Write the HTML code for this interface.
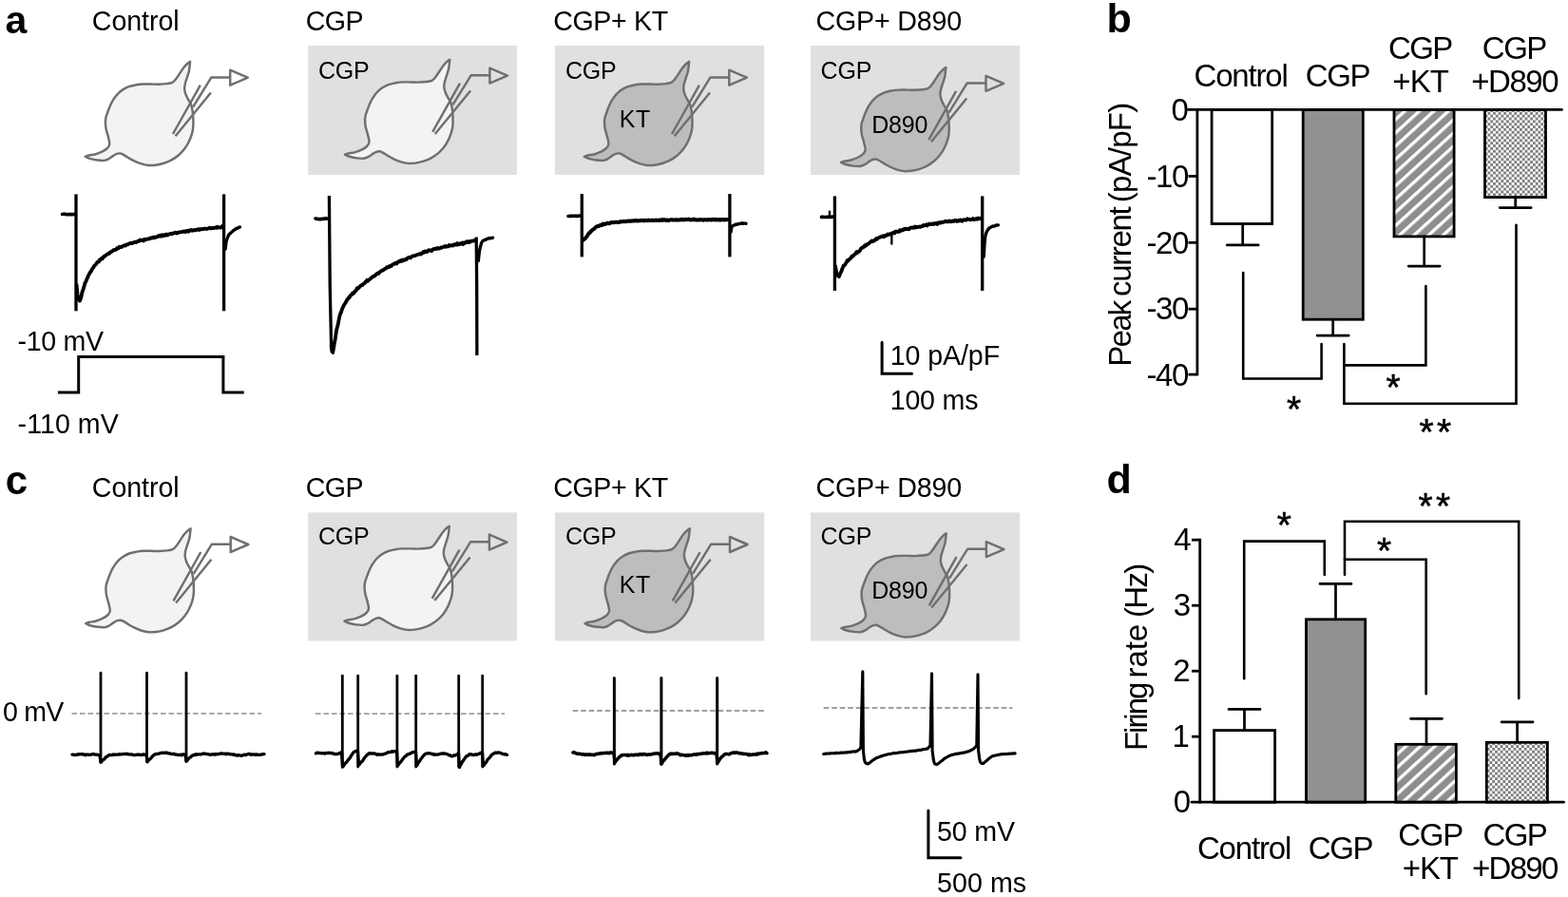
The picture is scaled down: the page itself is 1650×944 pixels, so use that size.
<!DOCTYPE html>
<html lang="en"><head><meta charset="utf-8"><title>Figure</title>
<style>html,body{margin:0;padding:0;background:#fff}svg{display:block}text{font-family:'Liberation Sans', sans-serif;fill:#000}</style></head><body>
<svg width="1650" height="944" viewBox="0 0 1650 944" role="img" aria-label="Figure panels a-d">
<defs>
<pattern id="hatch" width="10.3" height="10.3" patternUnits="userSpaceOnUse" patternTransform="rotate(-42.4)"><rect width="10.3" height="10.3" fill="#8e8e8e"/><rect y="0" width="10.3" height="3.3" fill="#fff"/></pattern>
<pattern id="check" x="1565.5" y="117.9" width="5.58" height="5.7" patternUnits="userSpaceOnUse"><rect width="5.58" height="5.7" fill="#fff"/><rect width="2.79" height="2.85" fill="#7d7d7d"/><rect x="2.79" y="2.85" width="2.79" height="2.85" fill="#7d7d7d"/></pattern>
<pattern id="check2" x="1567.5" y="784.1" width="5.58" height="5.7" patternUnits="userSpaceOnUse"><rect width="5.58" height="5.7" fill="#fff"/><rect width="2.79" height="2.85" fill="#7d7d7d"/><rect x="2.79" y="2.85" width="2.79" height="2.85" fill="#7d7d7d"/></pattern>
</defs>
<rect width="1650" height="944" fill="#fff"/>
<text x="5.6" y="34.7" font-size="41" font-weight="bold">a</text>
<text x="1164.4" y="33.9" font-size="43" font-weight="bold">b</text>
<text x="5.8" y="520.4" font-size="42" font-weight="bold">c</text>
<text x="1164.5" y="519.4" font-size="43" font-weight="bold">d</text>
<text x="96.8" y="32.2" font-size="28.6" letter-spacing="-0.06">Control</text>
<text x="321.8" y="32.2" font-size="28.6" letter-spacing="-0.58">CGP</text>
<text x="582.2" y="32.2" font-size="28.6" letter-spacing="-0.37">CGP+ KT</text>
<text x="858.6" y="32.2" font-size="28.6" letter-spacing="-0.19">CGP+ D890</text>
<text x="96.8" y="523.4" font-size="28.6" letter-spacing="-0.06">Control</text>
<text x="321.8" y="523.4" font-size="28.6" letter-spacing="-0.58">CGP</text>
<text x="582.2" y="523.4" font-size="28.6" letter-spacing="-0.37">CGP+ KT</text>
<text x="858.6" y="523.4" font-size="28.6" letter-spacing="-0.19">CGP+ D890</text>
<rect x="324.2" y="48" width="219.9" height="136" fill="#e0e0e0"/>
<rect x="583.9" y="48" width="220.3" height="136" fill="#e0e0e0"/>
<rect x="853" y="48" width="220.1" height="136" fill="#e0e0e0"/>
<rect x="324.2" y="539.4" width="219.9" height="135.1" fill="#e0e0e0"/>
<rect x="583.9" y="539.4" width="220.3" height="135.1" fill="#e0e0e0"/>
<rect x="853" y="539.4" width="220.1" height="135.1" fill="#e0e0e0"/>
<g transform="translate(0,0)" stroke="#6f6f6f" stroke-width="2.45" fill="none" stroke-linejoin="round">
<path d="M200.1,64.9C199.7,68.2 199.5,71.8 198.9,74.7C198.3,77.7 197.2,80.2 196.5,82.6C195.8,85 195,86.9 194.6,88.9C194.2,90.9 194,92.6 194.2,94.4C194.4,96.2 195,98.1 195.7,99.9C196.4,101.7 197.6,103.8 198.5,105.4C199.4,107 200.2,107.6 200.9,109.4C201.6,111.2 202.1,113.5 202.5,116C202.9,118.5 203.2,121.6 203.3,124.5C203.4,127.4 203.6,130.6 203.3,133.4C203.1,136.2 202.6,138.7 201.8,141.3C201,143.9 200,146.6 198.7,149.2C197.4,151.8 195.8,154.6 193.9,157C192,159.4 189.8,161.7 187.4,163.7C185,165.7 182.2,167.5 179.6,168.9C177,170.3 174.3,171.2 171.7,172C169.1,172.8 166.4,173.4 163.8,173.7C161.2,174 158.5,174.2 155.9,174C153.3,173.8 150.6,173 148,172.2C145.4,171.3 142.5,170.1 140.2,168.9C137.8,167.8 135.8,166.4 133.9,165.3C132.1,164.2 130.4,163.1 129.1,162.4C127.8,161.8 127,161.5 126,161.4C125,161.3 124,161.5 122.8,161.9C121.6,162.3 120.3,163.2 118.9,164.1C117.5,165 115.8,166.5 114.2,167.3C112.6,168.1 111.4,168.7 109.4,168.9C107.4,169.1 104.8,168.8 102.3,168.5C99.8,168.2 96.6,167.5 94.5,166.9C92.4,166.3 91.3,165.5 89.7,164.8C91,164.4 91.9,163.9 93.7,163.5C95.5,163.1 98.4,162.9 100.8,162.2C103.2,161.5 105.9,160.4 107.9,159.4C109.9,158.4 111.8,157.2 113,155.9C114.2,154.6 115.2,153.6 115.3,151.5C115.4,149.4 114.4,146.2 113.8,143.6C113.2,141 112.1,138.4 111.6,135.8C111.1,133.2 110.9,130.1 110.9,128C110.9,125.9 111.3,124.4 111.6,123C111.9,121.6 112.2,121.2 112.8,119.5C113.4,117.8 114.4,114.8 115.4,112.5C116.4,110.2 117.5,107.6 118.9,105.4C120.3,103.2 121.9,100.9 123.6,99.1C125.3,97.3 127.2,95.7 129.2,94.4C131.2,93.1 133.2,92.1 135.5,91.2C137.8,90.3 140.7,89.8 143.3,89.3C145.9,88.8 148.6,88.6 151.2,88.5C153.8,88.4 156.5,88.5 159.1,88.5C161.7,88.5 164.2,88.8 167,88.7C169.8,88.6 173.3,88.4 175.7,88.1C178.1,87.8 179.8,87.6 181.2,86.9C182.6,86.2 183.1,85.6 184.3,84.2C185.5,82.8 186.9,80.7 188.3,78.6C189.8,76.5 191.4,73.5 193,71.5C194.6,69.5 196.5,67.6 197.7,66.5C198.9,65.4 199.3,65.4 200.1,64.9Z" fill="#f3f3f3"/>
<path d="M182,141L210.8,89.7M184.6,143.2L221.9,97.5M203.2,112.5L222.4,81.4H242.2"/>
<path d="M242.2,73.7V89.7L260.8,81.7Z"/>
</g>
<g transform="translate(273.2,-2.1)" stroke="#6f6f6f" stroke-width="2.45" fill="none" stroke-linejoin="round">
<path d="M200.1,64.9C199.7,68.2 199.5,71.8 198.9,74.7C198.3,77.7 197.2,80.2 196.5,82.6C195.8,85 195,86.9 194.6,88.9C194.2,90.9 194,92.6 194.2,94.4C194.4,96.2 195,98.1 195.7,99.9C196.4,101.7 197.6,103.8 198.5,105.4C199.4,107 200.2,107.6 200.9,109.4C201.6,111.2 202.1,113.5 202.5,116C202.9,118.5 203.2,121.6 203.3,124.5C203.4,127.4 203.6,130.6 203.3,133.4C203.1,136.2 202.6,138.7 201.8,141.3C201,143.9 200,146.6 198.7,149.2C197.4,151.8 195.8,154.6 193.9,157C192,159.4 189.8,161.7 187.4,163.7C185,165.7 182.2,167.5 179.6,168.9C177,170.3 174.3,171.2 171.7,172C169.1,172.8 166.4,173.4 163.8,173.7C161.2,174 158.5,174.2 155.9,174C153.3,173.8 150.6,173 148,172.2C145.4,171.3 142.5,170.1 140.2,168.9C137.8,167.8 135.8,166.4 133.9,165.3C132.1,164.2 130.4,163.1 129.1,162.4C127.8,161.8 127,161.5 126,161.4C125,161.3 124,161.5 122.8,161.9C121.6,162.3 120.3,163.2 118.9,164.1C117.5,165 115.8,166.5 114.2,167.3C112.6,168.1 111.4,168.7 109.4,168.9C107.4,169.1 104.8,168.8 102.3,168.5C99.8,168.2 96.6,167.5 94.5,166.9C92.4,166.3 91.3,165.5 89.7,164.8C91,164.4 91.9,163.9 93.7,163.5C95.5,163.1 98.4,162.9 100.8,162.2C103.2,161.5 105.9,160.4 107.9,159.4C109.9,158.4 111.8,157.2 113,155.9C114.2,154.6 115.2,153.6 115.3,151.5C115.4,149.4 114.4,146.2 113.8,143.6C113.2,141 112.1,138.4 111.6,135.8C111.1,133.2 110.9,130.1 110.9,128C110.9,125.9 111.3,124.4 111.6,123C111.9,121.6 112.2,121.2 112.8,119.5C113.4,117.8 114.4,114.8 115.4,112.5C116.4,110.2 117.5,107.6 118.9,105.4C120.3,103.2 121.9,100.9 123.6,99.1C125.3,97.3 127.2,95.7 129.2,94.4C131.2,93.1 133.2,92.1 135.5,91.2C137.8,90.3 140.7,89.8 143.3,89.3C145.9,88.8 148.6,88.6 151.2,88.5C153.8,88.4 156.5,88.5 159.1,88.5C161.7,88.5 164.2,88.8 167,88.7C169.8,88.6 173.3,88.4 175.7,88.1C178.1,87.8 179.8,87.6 181.2,86.9C182.6,86.2 183.1,85.6 184.3,84.2C185.5,82.8 186.9,80.7 188.3,78.6C189.8,76.5 191.4,73.5 193,71.5C194.6,69.5 196.5,67.6 197.7,66.5C198.9,65.4 199.3,65.4 200.1,64.9Z" fill="#f3f3f3"/>
<path d="M182,141L210.8,89.7M184.6,143.2L221.9,97.5M203.2,112.5L222.4,81.4H242.2"/>
<path d="M242.2,73.7V89.7L260.8,81.7Z"/>
</g>
<g transform="translate(525.1,0)" stroke="#6f6f6f" stroke-width="2.45" fill="none" stroke-linejoin="round">
<path d="M200.1,64.9C199.7,68.2 199.5,71.8 198.9,74.7C198.3,77.7 197.2,80.2 196.5,82.6C195.8,85 195,86.9 194.6,88.9C194.2,90.9 194,92.6 194.2,94.4C194.4,96.2 195,98.1 195.7,99.9C196.4,101.7 197.6,103.8 198.5,105.4C199.4,107 200.2,107.6 200.9,109.4C201.6,111.2 202.1,113.5 202.5,116C202.9,118.5 203.2,121.6 203.3,124.5C203.4,127.4 203.6,130.6 203.3,133.4C203.1,136.2 202.6,138.7 201.8,141.3C201,143.9 200,146.6 198.7,149.2C197.4,151.8 195.8,154.6 193.9,157C192,159.4 189.8,161.7 187.4,163.7C185,165.7 182.2,167.5 179.6,168.9C177,170.3 174.3,171.2 171.7,172C169.1,172.8 166.4,173.4 163.8,173.7C161.2,174 158.5,174.2 155.9,174C153.3,173.8 150.6,173 148,172.2C145.4,171.3 142.5,170.1 140.2,168.9C137.8,167.8 135.8,166.4 133.9,165.3C132.1,164.2 130.4,163.1 129.1,162.4C127.8,161.8 127,161.5 126,161.4C125,161.3 124,161.5 122.8,161.9C121.6,162.3 120.3,163.2 118.9,164.1C117.5,165 115.8,166.5 114.2,167.3C112.6,168.1 111.4,168.7 109.4,168.9C107.4,169.1 104.8,168.8 102.3,168.5C99.8,168.2 96.6,167.5 94.5,166.9C92.4,166.3 91.3,165.5 89.7,164.8C91,164.4 91.9,163.9 93.7,163.5C95.5,163.1 98.4,162.9 100.8,162.2C103.2,161.5 105.9,160.4 107.9,159.4C109.9,158.4 111.8,157.2 113,155.9C114.2,154.6 115.2,153.6 115.3,151.5C115.4,149.4 114.4,146.2 113.8,143.6C113.2,141 112.1,138.4 111.6,135.8C111.1,133.2 110.9,130.1 110.9,128C110.9,125.9 111.3,124.4 111.6,123C111.9,121.6 112.2,121.2 112.8,119.5C113.4,117.8 114.4,114.8 115.4,112.5C116.4,110.2 117.5,107.6 118.9,105.4C120.3,103.2 121.9,100.9 123.6,99.1C125.3,97.3 127.2,95.7 129.2,94.4C131.2,93.1 133.2,92.1 135.5,91.2C137.8,90.3 140.7,89.8 143.3,89.3C145.9,88.8 148.6,88.6 151.2,88.5C153.8,88.4 156.5,88.5 159.1,88.5C161.7,88.5 164.2,88.8 167,88.7C169.8,88.6 173.3,88.4 175.7,88.1C178.1,87.8 179.8,87.6 181.2,86.9C182.6,86.2 183.1,85.6 184.3,84.2C185.5,82.8 186.9,80.7 188.3,78.6C189.8,76.5 191.4,73.5 193,71.5C194.6,69.5 196.5,67.6 197.7,66.5C198.9,65.4 199.3,65.4 200.1,64.9Z" fill="#bdbdbd"/>
<path d="M182,141L210.8,89.7M184.6,143.2L221.9,97.5M203.2,112.5L222.4,81.4H242.2"/>
<path d="M242.2,73.7V89.7L260.8,81.7Z"/>
</g>
<g transform="translate(795.3,6.1)" stroke="#6f6f6f" stroke-width="2.45" fill="none" stroke-linejoin="round">
<path d="M200.1,64.9C199.7,68.2 199.5,71.8 198.9,74.7C198.3,77.7 197.2,80.2 196.5,82.6C195.8,85 195,86.9 194.6,88.9C194.2,90.9 194,92.6 194.2,94.4C194.4,96.2 195,98.1 195.7,99.9C196.4,101.7 197.6,103.8 198.5,105.4C199.4,107 200.2,107.6 200.9,109.4C201.6,111.2 202.1,113.5 202.5,116C202.9,118.5 203.2,121.6 203.3,124.5C203.4,127.4 203.6,130.6 203.3,133.4C203.1,136.2 202.6,138.7 201.8,141.3C201,143.9 200,146.6 198.7,149.2C197.4,151.8 195.8,154.6 193.9,157C192,159.4 189.8,161.7 187.4,163.7C185,165.7 182.2,167.5 179.6,168.9C177,170.3 174.3,171.2 171.7,172C169.1,172.8 166.4,173.4 163.8,173.7C161.2,174 158.5,174.2 155.9,174C153.3,173.8 150.6,173 148,172.2C145.4,171.3 142.5,170.1 140.2,168.9C137.8,167.8 135.8,166.4 133.9,165.3C132.1,164.2 130.4,163.1 129.1,162.4C127.8,161.8 127,161.5 126,161.4C125,161.3 124,161.5 122.8,161.9C121.6,162.3 120.3,163.2 118.9,164.1C117.5,165 115.8,166.5 114.2,167.3C112.6,168.1 111.4,168.7 109.4,168.9C107.4,169.1 104.8,168.8 102.3,168.5C99.8,168.2 96.6,167.5 94.5,166.9C92.4,166.3 91.3,165.5 89.7,164.8C91,164.4 91.9,163.9 93.7,163.5C95.5,163.1 98.4,162.9 100.8,162.2C103.2,161.5 105.9,160.4 107.9,159.4C109.9,158.4 111.8,157.2 113,155.9C114.2,154.6 115.2,153.6 115.3,151.5C115.4,149.4 114.4,146.2 113.8,143.6C113.2,141 112.1,138.4 111.6,135.8C111.1,133.2 110.9,130.1 110.9,128C110.9,125.9 111.3,124.4 111.6,123C111.9,121.6 112.2,121.2 112.8,119.5C113.4,117.8 114.4,114.8 115.4,112.5C116.4,110.2 117.5,107.6 118.9,105.4C120.3,103.2 121.9,100.9 123.6,99.1C125.3,97.3 127.2,95.7 129.2,94.4C131.2,93.1 133.2,92.1 135.5,91.2C137.8,90.3 140.7,89.8 143.3,89.3C145.9,88.8 148.6,88.6 151.2,88.5C153.8,88.4 156.5,88.5 159.1,88.5C161.7,88.5 164.2,88.8 167,88.7C169.8,88.6 173.3,88.4 175.7,88.1C178.1,87.8 179.8,87.6 181.2,86.9C182.6,86.2 183.1,85.6 184.3,84.2C185.5,82.8 186.9,80.7 188.3,78.6C189.8,76.5 191.4,73.5 193,71.5C194.6,69.5 196.5,67.6 197.7,66.5C198.9,65.4 199.3,65.4 200.1,64.9Z" fill="#bdbdbd"/>
<path d="M182,141L210.8,89.7M184.6,143.2L221.9,97.5M203.2,112.5L222.4,81.4H242.2"/>
<path d="M242.2,73.7V89.7L260.8,81.7Z"/>
</g>
<g transform="translate(0.5,491.3)" stroke="#6f6f6f" stroke-width="2.45" fill="none" stroke-linejoin="round">
<path d="M200.1,64.9C199.7,68.2 199.5,71.8 198.9,74.7C198.3,77.7 197.2,80.2 196.5,82.6C195.8,85 195,86.9 194.6,88.9C194.2,90.9 194,92.6 194.2,94.4C194.4,96.2 195,98.1 195.7,99.9C196.4,101.7 197.6,103.8 198.5,105.4C199.4,107 200.2,107.6 200.9,109.4C201.6,111.2 202.1,113.5 202.5,116C202.9,118.5 203.2,121.6 203.3,124.5C203.4,127.4 203.6,130.6 203.3,133.4C203.1,136.2 202.6,138.7 201.8,141.3C201,143.9 200,146.6 198.7,149.2C197.4,151.8 195.8,154.6 193.9,157C192,159.4 189.8,161.7 187.4,163.7C185,165.7 182.2,167.5 179.6,168.9C177,170.3 174.3,171.2 171.7,172C169.1,172.8 166.4,173.4 163.8,173.7C161.2,174 158.5,174.2 155.9,174C153.3,173.8 150.6,173 148,172.2C145.4,171.3 142.5,170.1 140.2,168.9C137.8,167.8 135.8,166.4 133.9,165.3C132.1,164.2 130.4,163.1 129.1,162.4C127.8,161.8 127,161.5 126,161.4C125,161.3 124,161.5 122.8,161.9C121.6,162.3 120.3,163.2 118.9,164.1C117.5,165 115.8,166.5 114.2,167.3C112.6,168.1 111.4,168.7 109.4,168.9C107.4,169.1 104.8,168.8 102.3,168.5C99.8,168.2 96.6,167.5 94.5,166.9C92.4,166.3 91.3,165.5 89.7,164.8C91,164.4 91.9,163.9 93.7,163.5C95.5,163.1 98.4,162.9 100.8,162.2C103.2,161.5 105.9,160.4 107.9,159.4C109.9,158.4 111.8,157.2 113,155.9C114.2,154.6 115.2,153.6 115.3,151.5C115.4,149.4 114.4,146.2 113.8,143.6C113.2,141 112.1,138.4 111.6,135.8C111.1,133.2 110.9,130.1 110.9,128C110.9,125.9 111.3,124.4 111.6,123C111.9,121.6 112.2,121.2 112.8,119.5C113.4,117.8 114.4,114.8 115.4,112.5C116.4,110.2 117.5,107.6 118.9,105.4C120.3,103.2 121.9,100.9 123.6,99.1C125.3,97.3 127.2,95.7 129.2,94.4C131.2,93.1 133.2,92.1 135.5,91.2C137.8,90.3 140.7,89.8 143.3,89.3C145.9,88.8 148.6,88.6 151.2,88.5C153.8,88.4 156.5,88.5 159.1,88.5C161.7,88.5 164.2,88.8 167,88.7C169.8,88.6 173.3,88.4 175.7,88.1C178.1,87.8 179.8,87.6 181.2,86.9C182.6,86.2 183.1,85.6 184.3,84.2C185.5,82.8 186.9,80.7 188.3,78.6C189.8,76.5 191.4,73.5 193,71.5C194.6,69.5 196.5,67.6 197.7,66.5C198.9,65.4 199.3,65.4 200.1,64.9Z" fill="#f3f3f3"/>
<path d="M182,141L210.8,89.7M184.6,143.2L221.9,97.5M203.2,112.5L222.4,81.4H242.2"/>
<path d="M242.2,73.7V89.7L260.8,81.7Z"/>
</g>
<g transform="translate(272.7,488.9)" stroke="#6f6f6f" stroke-width="2.45" fill="none" stroke-linejoin="round">
<path d="M200.1,64.9C199.7,68.2 199.5,71.8 198.9,74.7C198.3,77.7 197.2,80.2 196.5,82.6C195.8,85 195,86.9 194.6,88.9C194.2,90.9 194,92.6 194.2,94.4C194.4,96.2 195,98.1 195.7,99.9C196.4,101.7 197.6,103.8 198.5,105.4C199.4,107 200.2,107.6 200.9,109.4C201.6,111.2 202.1,113.5 202.5,116C202.9,118.5 203.2,121.6 203.3,124.5C203.4,127.4 203.6,130.6 203.3,133.4C203.1,136.2 202.6,138.7 201.8,141.3C201,143.9 200,146.6 198.7,149.2C197.4,151.8 195.8,154.6 193.9,157C192,159.4 189.8,161.7 187.4,163.7C185,165.7 182.2,167.5 179.6,168.9C177,170.3 174.3,171.2 171.7,172C169.1,172.8 166.4,173.4 163.8,173.7C161.2,174 158.5,174.2 155.9,174C153.3,173.8 150.6,173 148,172.2C145.4,171.3 142.5,170.1 140.2,168.9C137.8,167.8 135.8,166.4 133.9,165.3C132.1,164.2 130.4,163.1 129.1,162.4C127.8,161.8 127,161.5 126,161.4C125,161.3 124,161.5 122.8,161.9C121.6,162.3 120.3,163.2 118.9,164.1C117.5,165 115.8,166.5 114.2,167.3C112.6,168.1 111.4,168.7 109.4,168.9C107.4,169.1 104.8,168.8 102.3,168.5C99.8,168.2 96.6,167.5 94.5,166.9C92.4,166.3 91.3,165.5 89.7,164.8C91,164.4 91.9,163.9 93.7,163.5C95.5,163.1 98.4,162.9 100.8,162.2C103.2,161.5 105.9,160.4 107.9,159.4C109.9,158.4 111.8,157.2 113,155.9C114.2,154.6 115.2,153.6 115.3,151.5C115.4,149.4 114.4,146.2 113.8,143.6C113.2,141 112.1,138.4 111.6,135.8C111.1,133.2 110.9,130.1 110.9,128C110.9,125.9 111.3,124.4 111.6,123C111.9,121.6 112.2,121.2 112.8,119.5C113.4,117.8 114.4,114.8 115.4,112.5C116.4,110.2 117.5,107.6 118.9,105.4C120.3,103.2 121.9,100.9 123.6,99.1C125.3,97.3 127.2,95.7 129.2,94.4C131.2,93.1 133.2,92.1 135.5,91.2C137.8,90.3 140.7,89.8 143.3,89.3C145.9,88.8 148.6,88.6 151.2,88.5C153.8,88.4 156.5,88.5 159.1,88.5C161.7,88.5 164.2,88.8 167,88.7C169.8,88.6 173.3,88.4 175.7,88.1C178.1,87.8 179.8,87.6 181.2,86.9C182.6,86.2 183.1,85.6 184.3,84.2C185.5,82.8 186.9,80.7 188.3,78.6C189.8,76.5 191.4,73.5 193,71.5C194.6,69.5 196.5,67.6 197.7,66.5C198.9,65.4 199.3,65.4 200.1,64.9Z" fill="#f3f3f3"/>
<path d="M182,141L210.8,89.7M184.6,143.2L221.9,97.5M203.2,112.5L222.4,81.4H242.2"/>
<path d="M242.2,73.7V89.7L260.8,81.7Z"/>
</g>
<g transform="translate(525.8,491.3)" stroke="#6f6f6f" stroke-width="2.45" fill="none" stroke-linejoin="round">
<path d="M200.1,64.9C199.7,68.2 199.5,71.8 198.9,74.7C198.3,77.7 197.2,80.2 196.5,82.6C195.8,85 195,86.9 194.6,88.9C194.2,90.9 194,92.6 194.2,94.4C194.4,96.2 195,98.1 195.7,99.9C196.4,101.7 197.6,103.8 198.5,105.4C199.4,107 200.2,107.6 200.9,109.4C201.6,111.2 202.1,113.5 202.5,116C202.9,118.5 203.2,121.6 203.3,124.5C203.4,127.4 203.6,130.6 203.3,133.4C203.1,136.2 202.6,138.7 201.8,141.3C201,143.9 200,146.6 198.7,149.2C197.4,151.8 195.8,154.6 193.9,157C192,159.4 189.8,161.7 187.4,163.7C185,165.7 182.2,167.5 179.6,168.9C177,170.3 174.3,171.2 171.7,172C169.1,172.8 166.4,173.4 163.8,173.7C161.2,174 158.5,174.2 155.9,174C153.3,173.8 150.6,173 148,172.2C145.4,171.3 142.5,170.1 140.2,168.9C137.8,167.8 135.8,166.4 133.9,165.3C132.1,164.2 130.4,163.1 129.1,162.4C127.8,161.8 127,161.5 126,161.4C125,161.3 124,161.5 122.8,161.9C121.6,162.3 120.3,163.2 118.9,164.1C117.5,165 115.8,166.5 114.2,167.3C112.6,168.1 111.4,168.7 109.4,168.9C107.4,169.1 104.8,168.8 102.3,168.5C99.8,168.2 96.6,167.5 94.5,166.9C92.4,166.3 91.3,165.5 89.7,164.8C91,164.4 91.9,163.9 93.7,163.5C95.5,163.1 98.4,162.9 100.8,162.2C103.2,161.5 105.9,160.4 107.9,159.4C109.9,158.4 111.8,157.2 113,155.9C114.2,154.6 115.2,153.6 115.3,151.5C115.4,149.4 114.4,146.2 113.8,143.6C113.2,141 112.1,138.4 111.6,135.8C111.1,133.2 110.9,130.1 110.9,128C110.9,125.9 111.3,124.4 111.6,123C111.9,121.6 112.2,121.2 112.8,119.5C113.4,117.8 114.4,114.8 115.4,112.5C116.4,110.2 117.5,107.6 118.9,105.4C120.3,103.2 121.9,100.9 123.6,99.1C125.3,97.3 127.2,95.7 129.2,94.4C131.2,93.1 133.2,92.1 135.5,91.2C137.8,90.3 140.7,89.8 143.3,89.3C145.9,88.8 148.6,88.6 151.2,88.5C153.8,88.4 156.5,88.5 159.1,88.5C161.7,88.5 164.2,88.8 167,88.7C169.8,88.6 173.3,88.4 175.7,88.1C178.1,87.8 179.8,87.6 181.2,86.9C182.6,86.2 183.1,85.6 184.3,84.2C185.5,82.8 186.9,80.7 188.3,78.6C189.8,76.5 191.4,73.5 193,71.5C194.6,69.5 196.5,67.6 197.7,66.5C198.9,65.4 199.3,65.4 200.1,64.9Z" fill="#bdbdbd"/>
<path d="M182,141L210.8,89.7M184.6,143.2L221.9,97.5M203.2,112.5L222.4,81.4H242.2"/>
<path d="M242.2,73.7V89.7L260.8,81.7Z"/>
</g>
<g transform="translate(795.7,496.4)" stroke="#6f6f6f" stroke-width="2.45" fill="none" stroke-linejoin="round">
<path d="M200.1,64.9C199.7,68.2 199.5,71.8 198.9,74.7C198.3,77.7 197.2,80.2 196.5,82.6C195.8,85 195,86.9 194.6,88.9C194.2,90.9 194,92.6 194.2,94.4C194.4,96.2 195,98.1 195.7,99.9C196.4,101.7 197.6,103.8 198.5,105.4C199.4,107 200.2,107.6 200.9,109.4C201.6,111.2 202.1,113.5 202.5,116C202.9,118.5 203.2,121.6 203.3,124.5C203.4,127.4 203.6,130.6 203.3,133.4C203.1,136.2 202.6,138.7 201.8,141.3C201,143.9 200,146.6 198.7,149.2C197.4,151.8 195.8,154.6 193.9,157C192,159.4 189.8,161.7 187.4,163.7C185,165.7 182.2,167.5 179.6,168.9C177,170.3 174.3,171.2 171.7,172C169.1,172.8 166.4,173.4 163.8,173.7C161.2,174 158.5,174.2 155.9,174C153.3,173.8 150.6,173 148,172.2C145.4,171.3 142.5,170.1 140.2,168.9C137.8,167.8 135.8,166.4 133.9,165.3C132.1,164.2 130.4,163.1 129.1,162.4C127.8,161.8 127,161.5 126,161.4C125,161.3 124,161.5 122.8,161.9C121.6,162.3 120.3,163.2 118.9,164.1C117.5,165 115.8,166.5 114.2,167.3C112.6,168.1 111.4,168.7 109.4,168.9C107.4,169.1 104.8,168.8 102.3,168.5C99.8,168.2 96.6,167.5 94.5,166.9C92.4,166.3 91.3,165.5 89.7,164.8C91,164.4 91.9,163.9 93.7,163.5C95.5,163.1 98.4,162.9 100.8,162.2C103.2,161.5 105.9,160.4 107.9,159.4C109.9,158.4 111.8,157.2 113,155.9C114.2,154.6 115.2,153.6 115.3,151.5C115.4,149.4 114.4,146.2 113.8,143.6C113.2,141 112.1,138.4 111.6,135.8C111.1,133.2 110.9,130.1 110.9,128C110.9,125.9 111.3,124.4 111.6,123C111.9,121.6 112.2,121.2 112.8,119.5C113.4,117.8 114.4,114.8 115.4,112.5C116.4,110.2 117.5,107.6 118.9,105.4C120.3,103.2 121.9,100.9 123.6,99.1C125.3,97.3 127.2,95.7 129.2,94.4C131.2,93.1 133.2,92.1 135.5,91.2C137.8,90.3 140.7,89.8 143.3,89.3C145.9,88.8 148.6,88.6 151.2,88.5C153.8,88.4 156.5,88.5 159.1,88.5C161.7,88.5 164.2,88.8 167,88.7C169.8,88.6 173.3,88.4 175.7,88.1C178.1,87.8 179.8,87.6 181.2,86.9C182.6,86.2 183.1,85.6 184.3,84.2C185.5,82.8 186.9,80.7 188.3,78.6C189.8,76.5 191.4,73.5 193,71.5C194.6,69.5 196.5,67.6 197.7,66.5C198.9,65.4 199.3,65.4 200.1,64.9Z" fill="#bdbdbd"/>
<path d="M182,141L210.8,89.7M184.6,143.2L221.9,97.5M203.2,112.5L222.4,81.4H242.2"/>
<path d="M242.2,73.7V89.7L260.8,81.7Z"/>
</g>
<text x="334.9" y="82.8" font-size="25" letter-spacing="-0.16">CGP</text>
<text x="594.9" y="82.8" font-size="25" letter-spacing="-0.16">CGP</text>
<text x="863.5" y="82.8" font-size="25" letter-spacing="-0.16">CGP</text>
<text x="651.7" y="134.1" font-size="25" letter-spacing="0.69">KT</text>
<text x="917.2" y="139.5" font-size="25" letter-spacing="-0.22">D890</text>
<text x="334.9" y="573.3" font-size="25" letter-spacing="-0.16">CGP</text>
<text x="594.9" y="573.3" font-size="25" letter-spacing="-0.16">CGP</text>
<text x="863.5" y="573.3" font-size="25" letter-spacing="-0.16">CGP</text>
<text x="651.7" y="624.3" font-size="25" letter-spacing="0.69">KT</text>
<text x="917.2" y="630" font-size="25" letter-spacing="-0.22">D890</text>
<g fill="none" stroke="#000" stroke-linejoin="round" stroke-linecap="round">
<polyline points="65.5,225.5 66.7,225.3 67.9,225.2 69.1,225.4 70.3,225.7 71.5,225.8 72.7,225.6 73.9,225.5 75.1,225.6 76.3,225.8 77.5,225.5 78.7,225.5" stroke-width="3.6"/>
<line x1="80" y1="204.4" x2="80" y2="327.3" stroke-width="3.3" stroke-linecap="butt"/>
<polyline points="80.6,300 81.5,309.5 82.3,313.7 83.1,315.5 83.9,316.6 84.7,315 85.5,312.4 86.3,308.2 87.1,305.8 87.9,303.3 88.7,300.9 89.5,297.7 90.3,296.4 91.1,294.6 91.9,292.8 92.7,290.5 93.5,289.3 94.3,287.6 95.1,286.2 95.9,285.5 96.7,283.4 97.5,282.5 98.3,281.6 99.1,279.9 99.9,279.1 100.7,278.3 101.5,277.4 102.3,276 103.1,275.7 103.9,275.4 104.7,273.5 105.5,273.7 106.3,272.7 107.1,271.7 107.9,272.1 108.7,271 109.5,269.6 110.3,269.5 111.1,269.1 111.9,268.2 112.7,268 113.5,267.2 114.3,267 115.1,266.8 115.9,265.4 116.7,265.3 117.5,264.6 118.3,264.4 119.1,263.4 119.9,263.2 120.7,262.9 121.5,262.9 122.3,262.6 123.1,261.2 123.9,261.1 124.7,261.3 125.5,259.8 126.3,260.1 127.1,259.9 127.9,260.1 128.7,259.5 129.5,258.8 130.3,258.5 131.1,258.2 131.9,258.6 132.7,257.5 133.5,257.3 134.3,257.3 135.1,256.8 135.9,256.5 136.7,255.9 137.5,256.1 138.3,255.7 139.1,256.1 139.9,255.7 140.7,255.2 141.5,255.2 142.3,254.6 143.1,255 143.9,254.3 144.7,254.4 145.5,253.4 146.3,253.9 147.1,252.9 147.9,252.5 148.7,253 149.5,252.6 150.3,252.8 151.1,253.4 151.9,252 152.7,251.9 153.5,252 154.3,252 155.1,251.5 155.9,251.3 156.7,251.5 157.5,251.2 158.3,250.4 159.1,250.6 159.9,250.4 160.7,249.8 161.5,250.2 162.3,249.5 163.1,250.1 163.9,249.6 164.7,249.4 165.5,248.9 166.3,249 167.1,248 167.9,248.2 168.7,248.6 169.5,247.5 170.3,248.5 171.1,247.3 171.9,248.1 172.7,247.3 173.5,247.8 174.3,247.3 175.1,246.5 175.9,247.5 176.7,247.4 177.5,246.6 178.3,246.4 179.1,246.2 179.9,245.8 180.7,246.4 181.5,245.6 182.3,245.7 183.1,245.2 183.9,245.2 184.7,244.7 185.5,245.6 186.3,244.9 187.1,245.2 187.9,244.7 188.7,244.3 189.5,244.3 190.3,244.1 191.1,244.2 191.9,243.9 192.7,243.8 193.5,243.3 194.3,243.4 195.1,244.2 195.9,243.2 196.7,242.9 197.5,243.4 198.3,243.7 199.1,242.4 199.9,242.8 200.7,242.5 201.5,241.9 202.3,242.8 203.1,242.4 203.9,242.3 204.7,241.9 205.5,242.3 206.3,241.8 207.1,241.8 207.9,241.3 208.7,241.2 209.5,242.1 210.3,241.2 211.1,241.5 211.9,241.2 212.7,241 213.5,240.8 214.3,241.2 215.1,240.7 215.9,240.7 216.7,240.6 217.5,241 218.3,240.7 219.1,240.5 219.9,240 220.7,239.6 221.5,240.4 222.3,240.4 223.1,239.8 223.9,240 224.7,240 225.5,239.9 226.3,239.9 227.1,239.2 227.9,239.9 228.7,238.7 229.5,239.5 230.3,239.3 231.1,239.3 231.9,239.6 232.7,239.4 233.5,238.2 234.3,237.9" stroke-width="3.8"/>
<line x1="235.6" y1="204.4" x2="235.6" y2="327.3" stroke-width="3.3" stroke-linecap="butt"/>
<polyline points="237.2,262.2 238,254.6 238.8,251.7 239.6,249.9 240.4,247.8 241.2,246.4 242,246.1 242.8,245.2 243.6,244.4 244.4,243.8 245.2,242.9 246,242.1 246.8,241.9 247.6,241.2 248.4,240.4 249.2,240.6 250,240 250.8,239.8 251.6,239.1 252.4,239" stroke-width="3.3"/>
<polyline points="332,230 333.2,230.3 334.4,230.3 335.6,230.8 336.8,230.5 338,230.6 339.2,230.2 340.4,230.5 341.6,230 342.8,229.9 344,230.1" stroke-width="3.6"/>
<polyline points="346.4,205.9 347.2,300 348.6,364" stroke-width="3.3" stroke-linecap="butt"/>
<polyline points="348.6,364 349.4,369.9 350.2,370.9 351,366.6 351.8,361.5 352.6,357.7 353.4,352.2 354.2,346.9 355,344 355.8,340.8 356.6,336.5 357.4,332.6 358.2,330 359,328.5 359.8,325.9 360.6,323.9 361.4,322.2 362.2,320.6 363,319.6 363.8,318.2 364.6,316.8 365.4,315.1 366.2,314.7 367,313.2 367.8,313 368.6,311 369.4,310.7 370.2,309.9 371,308.5 371.8,309 372.6,308.1 373.4,306.5 374.2,306.3 375,305.3 375.8,303.2 376.6,303.8 377.4,302.9 378.2,302.2 379,301 379.8,300.7 380.6,300 381.4,300 382.2,299 383,298.1 383.8,298.2 384.6,296.6 385.4,296.1 386.2,294.8 387,295.8 387.8,294.9 388.6,294.3 389.4,293.6 390.2,292.8 391,292.2 391.8,291.5 392.6,290.9 393.4,290.5 394.2,290.6 395,289.6 395.8,288.8 396.6,288.1 397.4,287.5 398.2,288 399,287 399.8,286.3 400.6,285.6 401.4,284.8 402.2,284.7 403,284.7 403.8,283.6 404.6,283.2 405.4,282.8 406.2,282.5 407,281.2 407.8,281.4 408.6,280.7 409.4,281 410.2,279.8 411,280 411.8,280 412.6,278.8 413.4,278.2 414.2,278.2 415,277.7 415.8,276.9 416.6,277.2 417.4,277.5 418.2,276.1 419,275.8 419.8,275 420.6,275.3 421.4,274.3 422.2,274 423,274.7 423.8,273.4 424.6,274 425.4,273.9 426.2,273 427,272.8 427.8,273.1 428.6,271.8 429.4,271.4 430.2,270.7 431,271 431.8,271.4 432.6,270.9 433.4,269.7 434.2,269.5 435,269.3 435.8,269.4 436.6,268.9 437.4,268.8 438.2,268.5 439,268 439.8,267.8 440.6,267.7 441.4,267.2 442.2,267.2 443,267.6 443.8,266.7 444.6,266.2 445.4,265.1 446.2,265.8 447,264.5 447.8,264.5 448.6,265.2 449.4,264.9 450.2,264.3 451,263.3 451.8,263.7 452.6,263.3 453.4,263.6 454.2,264.1 455,263 455.8,262.3 456.6,261.9 457.4,262.2 458.2,261.9 459,261.3 459.8,261.7 460.6,260.9 461.4,261.7 462.2,261.5 463,261.3 463.8,260.5 464.6,260.7 465.4,260.3 466.2,260 467,259.8 467.8,259.2 468.6,259 469.4,259.8 470.2,259.2 471,259.2 471.8,259.4 472.6,258 473.4,258.3 474.2,258.6 475,258.5 475.8,258 476.6,258.5 477.4,257.9 478.2,257.1 479,257.1 479.8,257.7 480.6,257.4 481.4,256.1 482.2,257.4 483,256.9 483.8,257.1 484.6,256.2 485.4,256 486.2,255.5 487,257 487.8,255.6 488.6,256.2 489.4,255.1 490.2,255.3 491,254.3 491.8,254.7 492.6,255.2 493.4,254 494.2,254.9 495,254.4 495.8,253.6 496.6,253.7 497.4,253.5 498.2,253.6 499,253.2 499.8,252.9 500.6,253" stroke-width="3.8"/>
<polyline points="501.2,249.5 501.7,300 501.9,373.9" stroke-width="3.3" stroke-linecap="butt"/>
<polyline points="503.4,274.7 504.2,266.5 505,261.6 505.8,258.8 506.6,255.6 507.4,254.4 508.2,253.3 509,252.8 509.8,252.9 510.6,252.1 511.4,252.3 512.2,251.3 513,251.4 513.8,251 514.6,250.6 515.4,250.9 516.2,250.5 517,250.7 517.8,250.4 518.6,250.1" stroke-width="3.3"/>
<polyline points="598,227.5 599.2,227.5 600.4,227.2 601.6,227.4 602.8,227.2 604,227.2 605.2,227.2 606.4,227.4 607.6,227.4 608.8,227.3 610,227.1" stroke-width="3.6"/>
<line x1="612.3" y1="204.1" x2="612.3" y2="270.4" stroke-width="3.3" stroke-linecap="butt"/>
<polyline points="613.5,252.9 614.3,252.1 615.1,251.4 615.9,251 616.7,249.7 617.5,249 618.3,247.6 619.1,246.4 619.9,245.2 620.7,245.1 621.5,243.7 622.3,243.1 623.1,242.3 623.9,241.7 624.7,241 625.5,240.8 626.3,239.5 627.1,238.9 627.9,238.5 628.7,238 629.5,238.2 630.3,237.9 631.1,237.2 631.9,236.8 632.7,236.8 633.5,237 634.3,235.7 635.1,236.3 635.9,235.7 636.7,236 637.5,235.3 638.3,235.3 639.1,234.8 639.9,234.8 640.7,235.2 641.5,235 642.3,234.5 643.1,234.3 643.9,233.9 644.7,234.2 645.5,234.2 646.3,234.1 647.1,234 647.9,233.7 648.7,233.8 649.5,233.8 650.3,234 651.1,234.1 651.9,233.5 652.7,233.3 653.5,233.4 654.3,233.2 655.1,233.1 655.9,233.2 656.7,232.9 657.5,233.2 658.3,233 659.1,233 659.9,232.8 660.7,232.7 661.5,232.6 662.3,232.7 663.1,232.6 663.9,232.7 664.7,232.6 665.5,232.2 666.3,232.6 667.1,232.2 667.9,232.3 668.7,232.4 669.5,231.9 670.3,232.4 671.1,232.4 671.9,232.3 672.7,232.2 673.5,232.2 674.3,232 675.1,232.1 675.9,232.1 676.7,232.2 677.5,231.8 678.3,232.2 679.1,232.1 679.9,232 680.7,231.9 681.5,232.2 682.3,231.6 683.1,232.1 683.9,232 684.7,232 685.5,232 686.3,231.8 687.1,231.8 687.9,232 688.7,232 689.5,231.9 690.3,231.5 691.1,231.9 691.9,232.1 692.7,232 693.5,231.8 694.3,231.4 695.1,232 695.9,231.7 696.7,231.1 697.5,231.8 698.3,231.3 699.1,231.3 699.9,231.5 700.7,231.9 701.5,231.5 702.3,231.6 703.1,232 703.9,231.9 704.7,231.5 705.5,231.4 706.3,231.2 707.1,231.3 707.9,231.5 708.7,231.5 709.5,231.4 710.3,231.6 711.1,231.2 711.9,231.3 712.7,231.5 713.5,231.5 714.3,231.6 715.1,231.4 715.9,231.2 716.7,231.4 717.5,231 718.3,230.8 719.1,231.4 719.9,231.2 720.7,231.3 721.5,230.8 722.3,231.1 723.1,231.1 723.9,231 724.7,230.6 725.5,231.1 726.3,231.4 727.1,231.3 727.9,231 728.7,231.2 729.5,231.4 730.3,230.5 731.1,231.2 731.9,231.3 732.7,231.4 733.5,231.6 734.3,231.5 735.1,231.3 735.9,231.3 736.7,231.4 737.5,231.1 738.3,231.2 739.1,231.4 739.9,231.7 740.7,231.2 741.5,231.2 742.3,231.2 743.1,231.5 743.9,231.2 744.7,231.6 745.5,231 746.3,231.2 747.1,231.2 747.9,231.4 748.7,231.5 749.5,230.8 750.3,231 751.1,231.3 751.9,231 752.7,230.8 753.5,231.5 754.3,231.3 755.1,231.3 755.9,231.1 756.7,231.5 757.5,231.1 758.3,231.5 759.1,231 759.9,231 760.7,231.3 761.5,231 762.3,231.4 763.1,231.3 763.9,231 764.7,231.2 765.5,231.1" stroke-width="4"/>
<line x1="767.9" y1="204.1" x2="767.9" y2="270.4" stroke-width="3.3" stroke-linecap="butt"/>
<polyline points="769,244.2 769.8,239.4 770.6,237.9 771.4,237.4 772.2,237.2 773,236.9 773.8,236.3 774.6,236.2 775.4,236.3 776.2,235.8 777,235.5 777.8,235.6 778.6,235.6 779.4,235.2 780.2,235 781,235 781.8,235.3 782.6,235 783.4,235.1 784.2,235.1 785,235.2" stroke-width="3.4"/>
<polyline points="864.5,228.4 865.7,228.2 866.9,228.5 868.1,228.5 869.3,228.5 870.5,228.4 871.7,228.3 872.9,228.5 874.1,228.4 875.3,228.2 876.5,228.1" stroke-width="3.6"/>
<line x1="873" y1="222.7" x2="873" y2="228.5" stroke-width="2.4"/>
<line x1="878.4" y1="206.4" x2="878.4" y2="305.9" stroke-width="3.3" stroke-linecap="butt"/>
<polyline points="879,280 880.5,288.4 881.3,289.5 882.1,290.7 882.9,291 883.7,288.9 884.5,287.1 885.3,285.8 886.1,283.3 886.9,281.5 887.7,279.4 888.5,279.4 889.3,278.3 890.1,276.8 890.9,276 891.7,273.9 892.5,274.3 893.3,273.2 894.1,272.7 894.9,272.1 895.7,270.9 896.5,269.6 897.3,269.9 898.1,268.7 898.9,268.2 899.7,267.3 900.5,266.8 901.3,265.2 902.1,266.1 902.9,264.9 903.7,264.7 904.5,264.4 905.3,262.8 906.1,261.4 906.9,261.1 907.7,260.4 908.5,260.1 909.3,259.7 910.1,258.2 910.9,258.7 911.7,257.3 912.5,257.5 913.3,256.8 914.1,256.1 914.9,255.7 915.7,254.9 916.5,254.4 917.3,253.4 918.1,253.6 918.9,254 919.7,253.5 920.5,252.8 921.3,252.1 922.1,251.1 922.9,251.7 923.7,250.6 924.5,250.3 925.3,249.9 926.1,249.7 926.9,249.2 927.7,249.1 928.5,248.3 929.3,248.4 930.1,249.3 930.9,248 931.7,247.7 932.5,247.8 933.3,247.6 934.1,246.5 934.9,246.7 935.7,246.9 936.5,246.4 937.3,246.1 938.1,246.4 938.9,245.2 939.7,245.3 940.5,244.7 941.3,245.4 942.1,243.6 942.9,243.9 943.7,243.7 944.5,244 945.3,243.7 946.1,243.8 946.9,242.2 947.7,243 948.5,242.3 949.3,241.9 950.1,242.3 950.9,241.4 951.7,240.7 952.5,241.3 953.3,240.6 954.1,240.8 954.9,241.1 955.7,240.9 956.5,241.3 957.3,240.3 958.1,239.6 958.9,239.8 959.7,239.5 960.5,239.3 961.3,239.9 962.1,239.2 962.9,238.5 963.7,239.5 964.5,239 965.3,239.1 966.1,238.8 966.9,238.9 967.7,238.5 968.5,238.8 969.3,238.3 970.1,238.1 970.9,238 971.7,237 972.5,237.4 973.3,237.2 974.1,237.2 974.9,236.3 975.7,237.5 976.5,236.7 977.3,235.9 978.1,235.5 978.9,236 979.7,236 980.5,235.5 981.3,235.8 982.1,235.3 982.9,235.7 983.7,235 984.5,235.2 985.3,235.5 986.1,236.1 986.9,234.4 987.7,234.5 988.5,234.2 989.3,234.8 990.1,233.8 990.9,234 991.7,234.1 992.5,233.6 993.3,233.5 994.1,233.6 994.9,232.7 995.7,232.9 996.5,233.3 997.3,233.4 998.1,233.2 998.9,232.4 999.7,232.9 1000.5,233.3 1001.3,233.1 1002.1,232.7 1002.9,232.3 1003.7,232.9 1004.5,232.2 1005.3,231.9 1006.1,232 1006.9,232.9 1007.7,232.3 1008.5,232.6 1009.3,231.8 1010.1,232.3 1010.9,231.5 1011.7,231.6 1012.5,232.7 1013.3,231.9 1014.1,231.2 1014.9,231.3 1015.7,231.4 1016.5,231.7 1017.3,230.9 1018.1,230.2 1018.9,230.8 1019.7,230.9 1020.5,230.8 1021.3,231.3 1022.1,230.8 1022.9,230.9 1023.7,230 1024.5,230.8 1025.3,231.2 1026.1,230.6 1026.9,230.2 1027.7,230.1 1028.5,230.8 1029.3,229.5 1030.1,229.8 1030.9,230 1031.7,230 1032.5,229.4" stroke-width="3.8"/>
<line x1="938.3" y1="246" x2="938.3" y2="256.5" stroke-width="2.4"/>
<line x1="1033.7" y1="206.4" x2="1033.7" y2="305.9" stroke-width="3.3" stroke-linecap="butt"/>
<polyline points="1035.2,270.1 1036,257.2 1036.8,248.7 1037.6,245.9 1038.4,243.7 1039.2,242.4 1040,241.4 1040.8,240.1 1041.6,239.7 1042.4,239.4 1043.2,238.6 1044,238.5 1044.8,237.9 1045.6,238.1 1046.4,238.1 1047.2,237.8 1048,237 1048.8,237.1 1049.6,236.9 1050.4,236.8" stroke-width="3.3"/>
</g>
<g fill="none" stroke="#000" stroke-width="3" stroke-linejoin="miter" stroke-linecap="butt">
<polyline points="60.9,413.1 82.7,413.1 82.7,375.5 234.9,375.5 234.9,413.1 256.7,413.1"/>
<polyline points="928.1,360.2 928.1,393.3 959.5,393.3" stroke-linecap="round"/>
<polyline points="976.9,853 976.9,902.7 1011,902.7" stroke-linecap="round"/>
</g>
<text x="18.6" y="369.2" font-size="28.6" letter-spacing="-0.35">-10 mV</text>
<text x="18.6" y="456.1" font-size="28.6" letter-spacing="0.04">-110 mV</text>
<text x="936.7" y="383.7" font-size="28.6" letter-spacing="-0.09">10 pA/pF</text>
<text x="936.7" y="430.7" font-size="28.6" letter-spacing="-0.19">100 ms</text>
<text x="985.9" y="884.8" font-size="28.6" letter-spacing="-0.14">50 mV</text>
<text x="985.9" y="938.8" font-size="28.6" letter-spacing="0.09">500 ms</text>
<text x="2.9" y="759.1" font-size="28.6" letter-spacing="-0.73">0 mV</text>
<g fill="none" stroke="#a0a0a0" stroke-width="1.8" stroke-dasharray="5.6 2.9">
<line x1="75.5" y1="750.9" x2="275" y2="750.9"/>
<line x1="332" y1="751.1" x2="531" y2="751.1"/>
<line x1="602.7" y1="748" x2="804" y2="748"/>
<line x1="866.7" y1="745" x2="1065.5" y2="745"/>
</g>
<g fill="none" stroke="#000" stroke-linejoin="round" stroke-linecap="round">
<polyline points="76,794.2 77,794.1 78,794.3 79,794.6 80,794.3 81,794 82,794 83,794 84,793.7 85,793.6 86,793.9 87,793.7 88,794 89,794.1 90,794.8 91,794 92,794.2 93,794.2 94,794.3 95,794.4 96,793.9 97,793.8 98,793.5 99,793.7 100,794.2 101,794.2 102,794.1 103,794.4 104,794.7 105,795.1 106,802.3 107,801.4 108,800 109,799.2 110,798.9 111,797 112,796.6 113,795.9 114,795.1 115,794.5 116,794.6 117,794.6 118,794.5 119,794 120,794.4 121,794.1 122,794.1 123,794.2 124,794.2 125,794.1 126,793.6 127,793.8 128,793.8 129,793.7 130,793.7 131,793.3 132,793.3 133,793.7 134,793.2 135,793.8 136,793.8 137,794 138,793.8 139,794.2 140,794.4 141,794.7 142,794.7 143,794.3 144,794.2 145,794 146,794.3 147,794.1 148,794.3 149,794.6 150,794.2 151,793.9 152,794.2 153,794.2 154,794.4 155,801.9 156,800.6 157,799.2 158,798.7 159,797.8 160,796.4 161,795.3 162,794.5 163,793.9 164,793.6 165,793.5 166,793.3 167,793.1 168,793 169,792.7 170,792.1 171,792.4 172,792.4 173,792.2 174,792.5 175,792.2 176,792.2 177,792.9 178,792.8 179,792.9 180,793.4 181,793.6 182,793.7 183,793.2 184,793.8 185,794.1 186,794.1 187,794.4 188,794.7 189,794.3 190,794.1 191,794.9 192,794.2 193,793.9 194,794.2 195,794.2 196,801.1 197,800.3 198,798.9 199,797.7 200,797.1 201,796.4 202,795.3 203,794.9 204,794.3 205,794.7 206,793.8 207,794.3 208,793.9 209,793.8 210,793.9 211,793.8 212,793.8 213,793.4 214,793.1 215,793 216,793.3 217,793.4 218,793.7 219,793.7 220,794 221,794.3 222,794.2 223,793.8 224,793.9 225,793.7 226,794.3 227,793.5 228,793.8 229,793.5 230,793.6 231,793.3 232,793 233,793 234,793.1 235,793.2 236,793.1 237,793.3 238,793.8 239,793 240,793.5 241,793.3 242,793.6 243,793.9 244,793.8 245,794.2 246,793.8 247,794.7 248,794.5 249,795 250,795 251,794.5 252,795 253,795.2 254,795.4 255,794.9 256,794.7 257,794.1 258,794.6 259,794.5 260,793.8 261,793.6 262,793.2 263,793.8 264,794.3 265,793.8 266,794.1 267,794 268,793.8 269,794.5 270,793.9 271,794.2 272,794.3 273,794.4 274,794.2 275,794.2 276,793.8 277,793.5 278,793.7" stroke-width="3.3"/>
<line x1="106" y1="708.2" x2="106" y2="801.6" stroke-width="2.8"/>
<line x1="154.5" y1="708.2" x2="154.5" y2="801.6" stroke-width="2.8"/>
<line x1="196" y1="708.2" x2="196" y2="801.6" stroke-width="2.8"/>
<polyline points="332.5,792.8 333.5,792.2 334.5,792.2 335.5,792.6 336.5,792.3 337.5,792.5 338.5,792.8 339.5,792.7 340.5,792.6 341.5,793.1 342.5,792.7 343.5,792.4 344.5,792.6 345.5,792.5 346.5,792.2 347.5,792.6 348.5,792.7 349.5,792.4 350.5,793.2 351.5,793.4 352.5,793.6 353.5,793.5 354.5,793.6 355.5,793.4 356.5,793.1 357.5,792.4 358.5,792.4 359.5,791.6 360.5,807.1 361.5,806.1 362.5,804.3 363.5,803.1 364.5,802.3 365.5,800.8 366.5,799.6 367.5,798.4 368.5,797.3 369.5,795.2 370.5,793.9 371.5,792.4 372.5,791.4 373.5,790.8 374.5,790.4 375.5,790.4 376.5,790 377.5,805.2 378.5,804.1 379.5,802.6 380.5,801.7 381.5,800.8 382.5,799.2 383.5,797.6 384.5,796.5 385.5,795.1 386.5,794.4 387.5,793.7 388.5,792.7 389.5,792.7 390.5,793.1 391.5,792.8 392.5,793 393.5,792.9 394.5,793.2 395.5,793.5 396.5,794.3 397.5,793.9 398.5,794 399.5,794 400.5,794.1 401.5,794.2 402.5,793.8 403.5,794 404.5,793.3 405.5,793.2 406.5,792.6 407.5,792.3 408.5,791.5 409.5,791.7 410.5,791.6 411.5,791.4 412.5,790.6 413.5,791.2 414.5,790.8 415.5,790.7 416.5,790.7 417.5,790.7 418.5,806 419.5,804.3 420.5,803.1 421.5,802.1 422.5,800.7 423.5,799.3 424.5,798 425.5,796.8 426.5,795.9 427.5,795.3 428.5,793.9 429.5,793.9 430.5,793.5 431.5,792.9 432.5,792.8 433.5,791.9 434.5,791.6 435.5,791.5 436.5,791.5 437.5,791.2 438.5,805.7 439.5,804.3 440.5,802.1 441.5,801.2 442.5,799.2 443.5,798 444.5,796.7 445.5,795.4 446.5,794.3 447.5,793.5 448.5,793.1 449.5,792.8 450.5,792.9 451.5,792.7 452.5,792.9 453.5,793.1 454.5,793.7 455.5,793.3 456.5,794.3 457.5,794 458.5,794 459.5,794.2 460.5,794.2 461.5,793.8 462.5,793.7 463.5,793.1 464.5,793.2 465.5,793.1 466.5,792.7 467.5,793.2 468.5,793.1 469.5,793.4 470.5,793.6 471.5,794.2 472.5,794.8 473.5,794.7 474.5,795.6 475.5,795.8 476.5,795.6 477.5,794.8 478.5,795 479.5,794.8 480.5,794 481.5,793.7 482.5,792.4 483.5,807.5 484.5,805.3 485.5,803.9 486.5,801.5 487.5,800.5 488.5,798.8 489.5,797.7 490.5,796.1 491.5,795.3 492.5,795.3 493.5,794 494.5,793.7 495.5,794 496.5,793.9 497.5,794.5 498.5,794.7 499.5,794.1 500.5,793.8 501.5,794.3 502.5,793.9 503.5,793.5 504.5,793.2 505.5,792.3 506.5,792.2 507.5,791.5 508.5,806 509.5,805.1 510.5,803.1 511.5,802.4 512.5,800.5 513.5,798.9 514.5,798 515.5,797.1 516.5,795.6 517.5,794.2 518.5,793.6 519.5,793.2 520.5,792.4 521.5,792.2 522.5,792.5 523.5,792.2 524.5,791.9 525.5,792.2 526.5,792.3 527.5,792.8 528.5,793.1 529.5,793.7 530.5,793.8 531.5,793.5 532.5,794.2 533.5,794.4" stroke-width="3.3"/>
<line x1="360.3" y1="711.2" x2="360.3" y2="807" stroke-width="2.8"/>
<line x1="376.7" y1="711.2" x2="376.7" y2="807" stroke-width="2.8"/>
<line x1="417.9" y1="711.2" x2="417.9" y2="807" stroke-width="2.8"/>
<line x1="437.7" y1="711.2" x2="437.7" y2="807" stroke-width="2.8"/>
<line x1="482.7" y1="711.2" x2="482.7" y2="807" stroke-width="2.8"/>
<line x1="507.7" y1="711.2" x2="507.7" y2="807" stroke-width="2.8"/>
<polyline points="603,792 604,791.7 605,792.1 606,792.8 607,793.2 608,793.1 609,793.5 610,793.3 611,793.6 612,793.7 613,794 614,793.6 615,794.3 616,794.4 617,793.9 618,793.9 619,794.4 620,794.2 621,793.8 622,794.6 623,794.4 624,794.2 625,794.7 626,794 627,793.6 628,793.7 629,793.2 630,793.1 631,793.2 632,792.7 633,792.6 634,792.9 635,792.6 636,792.5 637,792.4 638,792.3 639,792.6 640,792.2 641,792.7 642,792 643,792.2 644,792 645,792.4 646,792.8 647,802.6 648,800.8 649,799.8 650,798.6 651,797.5 652,796.4 653,795.9 654,794.7 655,794.7 656,794.6 657,794.5 658,794.5 659,794.4 660,795.2 661,794.4 662,795.1 663,794.8 664,794.5 665,794.3 666,794.8 667,794.9 668,794.2 669,794.3 670,794.5 671,794.2 672,794.5 673,793.8 674,794 675,793.5 676,794.3 677,793.7 678,793.4 679,794 680,794 681,794.5 682,794 683,794 684,794 685,794.1 686,793.5 687,793.5 688,793.2 689,792.9 690,792.9 691,792.9 692,792.7 693,793.4 694,793 695,793.8 696,804.1 697,802.4 698,800.9 699,799.7 700,798.6 701,797.4 702,796.1 703,795.3 704,794 705,793.7 706,793.1 707,793.6 708,793.3 709,793.1 710,793.5 711,793.3 712,792.5 713,793.3 714,793.2 715,794 716,794.7 717,794.2 718,794.5 719,794.6 720,794.9 721,795 722,795.2 723,794.6 724,795.2 725,794.5 726,794.7 727,794.9 728,794.7 729,794.2 730,794.1 731,794.1 732,794 733,794.2 734,793.4 735,793.7 736,793.5 737,793.3 738,793.1 739,793.2 740,792.8 741,792.8 742,792.7 743,793 744,792.1 745,793 746,792.6 747,792.6 748,792.5 749,792.2 750,792.6 751,792.5 752,792.9 753,792.4 754,793.2 755,802.8 756,801.2 757,799.7 758,798.3 759,797 760,796.1 761,795.3 762,794.4 763,793.5 764,793.5 765,793.4 766,793.6 767,793.9 768,793.4 769,792.9 770,792.4 771,792.2 772,791.9 773,792.4 774,791.9 775,792.1 776,792 777,792.4 778,792.9 779,792.6 780,792.9 781,793 782,793.6 783,793.3 784,793.4 785,793.5 786,793.6 787,794.1 788,794.8 789,793.9 790,794.5 791,794.3 792,794 793,794.1 794,794 795,793.8 796,794.3 797,793.1 798,793.5 799,793.3 800,792.8 801,792.8 802,792.8 803,792.5 804,792.5 805,792.5 806,791.8 807,792.7" stroke-width="3.5"/>
<line x1="646.4" y1="713.5" x2="646.4" y2="803.9" stroke-width="3"/>
<line x1="695.9" y1="713.5" x2="695.9" y2="803.9" stroke-width="3"/>
<line x1="754.7" y1="713.5" x2="754.7" y2="803.9" stroke-width="3"/>
<polyline points="866.7,793.6 867.5,793.4 868.3,793.4 869.1,793 869.9,793.1 870.7,793 871.5,793 872.3,793.1 873.1,792.9 873.9,792.9 874.7,792.7 875.5,792.8 876.3,792.8 877.1,792.7 877.9,792.6 878.7,792.9 879.5,792.4 880.3,792.4 881.1,792.4 881.9,792.6 882.7,792.6 883.5,792.3 884.3,792.2 885.1,792.1 885.9,792.3 886.7,792 887.5,792.2 888.3,792.1 889.1,791.9 889.9,792 890.7,791.9 891.5,792 892.3,791.6 893.1,791.8 893.9,791.5 894.7,791.4 895.5,791.4 896.3,791.3 897.1,791.1 897.9,790.9 898.7,790.9 899.5,791.1 900.3,791 901.1,790.6 901.9,790.4 902.7,789.8 903.5,789.3 904.3,788.8 905.1,787.8 905.9,786.3 907.8,706.7 908.4,790 909.4,799 910.2,802 911,803 911.8,803.7 912.6,803.8 913.4,803.9 914.2,803.4 915,802.7 915.8,802.2 916.6,801.6 917.4,800.9 918.2,800.3 919,799.8 919.8,799.2 920.6,798.8 921.4,798 922.2,797.8 923,797.4 923.8,797.2 924.6,796.8 925.4,796.4 926.2,796.3 927,795.9 927.8,795.5 928.6,795.6 929.4,795.3 930.2,794.8 931,794.8 931.8,794.4 932.6,794.4 933.4,794.1 934.2,793.8 935,793.7 935.8,793.5 936.6,793.5 937.4,793.3 938.2,793.2 939,793 939.8,792.5 940.6,792.8 941.4,792.5 942.2,792.6 943,792.6 943.8,792.4 944.6,792.2 945.4,792.1 946.2,792 947,791.9 947.8,791.8 948.6,791.7 949.4,791.8 950.2,791.6 951,791.6 951.8,791.4 952.6,791.3 953.4,791.2 954.2,791.1 955,791.1 955.8,790.9 956.6,790.6 957.4,790.5 958.2,790.7 959,790.4 959.8,790.3 960.6,790.4 961.4,790.3 962.2,790.1 963,790 963.8,790.2 964.6,789.9 965.4,789.8 966.2,789.6 967,789.4 967.8,789.3 968.6,789.4 969.4,789.3 970.2,789 971,788.8 971.8,788.6 972.6,788.5 973.4,788.2 974.2,788.3 975,788.1 975.8,788 976.6,787.4 977.4,786.4 978.2,785.5 979,784.3 980.5,708.9 981.1,790 982.2,798.9 983,802.5 983.8,803.9 984.6,804.3 985.4,804.5 986.2,804.2 987,803.8 987.8,803.3 988.6,802.5 989.4,801.9 990.2,801.1 991,800.8 991.8,800.1 992.6,799.3 993.4,798.5 994.2,798.1 995,797.6 995.8,797.2 996.6,796.7 997.4,796.3 998.2,795.8 999,795.6 999.8,795.1 1000.6,794.8 1001.4,794.5 1002.2,794.2 1003,794.2 1003.8,793.9 1004.6,793.8 1005.4,793.5 1006.2,793.3 1007,793.4 1007.8,793.1 1008.6,793.1 1009.4,793 1010.2,792.6 1011,792.6 1011.8,792.5 1012.6,792.3 1013.4,792.1 1014.2,792.2 1015,791.9 1015.8,791.8 1016.6,791.5 1017.4,791.3 1018.2,790.9 1019,790.8 1019.8,790.5 1020.6,790.2 1021.4,789.7 1022.2,789.3 1023,789 1023.8,788.5 1024.6,787.9 1025.4,787.2 1026.2,786.6 1027,785.7 1027.8,784 1029,709.7 1029.6,790 1030.6,798 1031.4,801.7 1032.2,802.6 1033,803.4 1033.8,803.5 1034.6,803.5 1035.4,802.8 1036.2,802 1037,801.5 1037.8,800.9 1038.6,800.2 1039.4,799.5 1040.2,798.7 1041,798.1 1041.8,797.5 1042.6,797 1043.4,796.3 1044.2,795.8 1045,795.6 1045.8,795.4 1046.6,795.3 1047.4,795.1 1048.2,794.8 1049,794.7 1049.8,794.5 1050.6,794.4 1051.4,794.3 1052.2,794.1 1053,793.8 1053.8,793.9 1054.6,793.6 1055.4,793.7 1056.2,793.6 1057,793.4 1057.8,793.6 1058.6,793.5 1059.4,793.4 1060.2,793.5 1061,793.5 1061.8,793 1062.6,793.3 1063.4,793.2 1064.2,793.1 1065,793.2 1065.8,792.9 1066.6,792.9 1067.4,792.9 1068.2,792.9" stroke-width="3.1"/>
</g>
<rect x="1275.1" y="115.4" width="63.6" height="120.1" fill="#fff" stroke="#000" stroke-width="2.8"/>
<path d="M1307.7,235.5V257.9M1291.2,257.9H1324.2" fill="none" stroke="#000" stroke-width="2.7" stroke-linecap="round"/>
<rect x="1371.2" y="115.4" width="63.1" height="220.8" fill="#919191" stroke="#000" stroke-width="2.8"/>
<path d="M1402.7,336.2V353.2M1386.2,353.2H1419.2" fill="none" stroke="#000" stroke-width="2.7" stroke-linecap="round"/>
<rect x="1467" y="115.4" width="63.1" height="133.5" fill="url(#hatch)" stroke="#000" stroke-width="2.8"/>
<path d="M1498.7,248.9V280.1M1482.2,280.1H1515.2" fill="none" stroke="#000" stroke-width="2.7" stroke-linecap="round"/>
<rect x="1562.5" y="115.4" width="64" height="92.2" fill="url(#check)" stroke="#000" stroke-width="2.8"/>
<path d="M1594.7,207.6V218.6M1578.2,218.6H1611.2" fill="none" stroke="#000" stroke-width="2.7" stroke-linecap="round"/>
<g fill="none" stroke="#000" stroke-width="2.8" stroke-linecap="butt">
<path d="M1259.9,114.2V395.3"/>
<path d="M1250.5,115.4H1643.4" stroke-linecap="round"/>
<path d="M1250.5,185.4H1259.9"/>
<path d="M1250.5,255.3H1259.9"/>
<path d="M1250.5,325.2H1259.9"/>
<path d="M1250.5,394.1H1259.9"/>
</g>
<text x="1232.6" y="126.6" font-size="33">0</text>
<text x="1206.4" y="196.6" font-size="33" letter-spacing="-1.33">-10</text>
<text x="1206.4" y="266.5" font-size="33" letter-spacing="-1.33">-20</text>
<text x="1206.4" y="336.4" font-size="33" letter-spacing="-1.33">-30</text>
<text x="1206.4" y="406.4" font-size="33" letter-spacing="-1.33">-40</text>
<g fill="none" stroke="#000" stroke-width="2.6" stroke-linecap="round" stroke-linejoin="miter">
<polyline points="1308.2,287 1308.2,398.5 1390.6,398.5 1390.6,362.1"/>
<polyline points="1414.4,362.1 1414.4,424.7 1595.5,424.7 1595.5,236.7"/>
<polyline points="1414.4,384.4 1500.4,384.4 1500.4,301"/>
</g>
<text transform="translate(1189.6,385.8) rotate(-90)" font-size="33" letter-spacing="-1.71">Peak</text>
<text transform="translate(1189.6,312) rotate(-90)" font-size="33" letter-spacing="-1.34">current</text>
<text transform="translate(1189.6,213.2) rotate(-90)" font-size="33" letter-spacing="-0.76">(pA/pF)</text>
<text x="1256.5" y="91.4" font-size="33" letter-spacing="-1.19">Control</text>
<text x="1373.8" y="91.4" font-size="33" letter-spacing="-1.37">CGP</text>
<text x="1461" y="62.1" font-size="33" letter-spacing="-1.62">CGP</text>
<text x="1465.3" y="97.3" font-size="33" letter-spacing="-0.89">+KT</text>
<text x="1559.8" y="62.1" font-size="33" letter-spacing="-1.47">CGP</text>
<text x="1548.3" y="97.3" font-size="33" letter-spacing="-1.48">+D890</text>
<rect x="1277.6" y="768.6" width="64" height="75.6" fill="#fff" stroke="#000" stroke-width="2.8"/>
<path d="M1309.5,768.6V746.4M1293,746.4H1326" fill="none" stroke="#000" stroke-width="2.7" stroke-linecap="round"/>
<rect x="1374.5" y="651.8" width="62.2" height="192.4" fill="#919191" stroke="#000" stroke-width="2.8"/>
<path d="M1405.5,651.8V614.4M1389,614.4H1422" fill="none" stroke="#000" stroke-width="2.7" stroke-linecap="round"/>
<rect x="1468.8" y="783.3" width="63.6" height="60.9" fill="url(#hatch)" stroke="#000" stroke-width="2.8"/>
<path d="M1501,783.3V756.3M1484.5,756.3H1517.5" fill="none" stroke="#000" stroke-width="2.7" stroke-linecap="round"/>
<rect x="1564.3" y="781.3" width="64.1" height="62.9" fill="url(#check2)" stroke="#000" stroke-width="2.8"/>
<path d="M1596.6,781.2V759.8M1580.1,759.8H1613.1" fill="none" stroke="#000" stroke-width="2.7" stroke-linecap="round"/>
<g fill="none" stroke="#000" stroke-width="2.8" stroke-linecap="butt">
<path d="M1262.7,566.8V845.6"/>
<path d="M1254,844.2H1645.5" stroke-linecap="round"/>
<path d="M1254,568.2H1262.7"/>
<path d="M1254,637.2H1262.7"/>
<path d="M1254,706.2H1262.7"/>
<path d="M1254,775.2H1262.7"/>
</g>
<text x="1235.3" y="579.4" font-size="33">4</text>
<text x="1234.8" y="648.4" font-size="33">3</text>
<text x="1234.3" y="717.4" font-size="33">2</text>
<text x="1233.5" y="786.4" font-size="33">1</text>
<text x="1234.7" y="855.4" font-size="33">0</text>
<g fill="none" stroke="#000" stroke-width="2.6" stroke-linecap="round" stroke-linejoin="miter">
<polyline points="1309.2,714.2 1309.2,569.6 1393.8,569.6 1393.8,605"/>
<polyline points="1415,605 1415,548.8 1598.2,548.8 1598.2,735"/>
<polyline points="1415,588.7 1500.7,588.7 1500.7,730.3"/>
</g>
<text transform="translate(1206.8,790) rotate(-90)" font-size="33" letter-spacing="-2.04">Firing</text>
<text transform="translate(1206.8,713.5) rotate(-90)" font-size="33" letter-spacing="-0.10">rate</text>
<text transform="translate(1206.8,649.9) rotate(-90)" font-size="33" letter-spacing="-1.72">(Hz)</text>
<text x="1259.9" y="904.1" font-size="33" letter-spacing="-1.16">Control</text>
<text x="1376.8" y="904.1" font-size="33" letter-spacing="-1.37">CGP</text>
<text x="1471.3" y="889.6" font-size="33" letter-spacing="-1.32">CGP</text>
<text x="1475.8" y="925" font-size="33" letter-spacing="-1.14">+KT</text>
<text x="1560.5" y="889.6" font-size="33" letter-spacing="-1.67">CGP</text>
<text x="1548.9" y="925" font-size="33" letter-spacing="-1.68">+D890</text>
<text x="1354" y="444.1" font-size="39" stroke="#000" stroke-width="0.55">*</text>
<text x="1458.5" y="420.6" font-size="39" stroke="#000" stroke-width="0.55">*</text>
<text x="1493.4" y="467.9" font-size="39" letter-spacing="3.34" stroke="#000" stroke-width="0.55">**</text>
<text x="1343.7" y="566.2" font-size="39" stroke="#000" stroke-width="0.55">*</text>
<text x="1449" y="592.5" font-size="39" stroke="#000" stroke-width="0.55">*</text>
<text x="1492.4" y="545.7" font-size="39" letter-spacing="3.44" stroke="#000" stroke-width="0.55">**</text>
</svg></body></html>
